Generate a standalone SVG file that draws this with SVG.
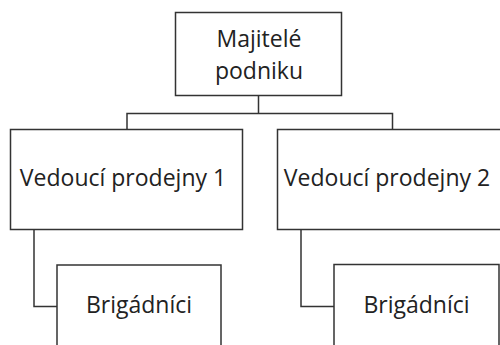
<svg xmlns="http://www.w3.org/2000/svg" width="500" height="345" viewBox="0 0 500 345">
<style>
.box{fill:#fff;stroke:#333;stroke-width:1.5}
.lbl{font-family:"Open Sans","Liberation Sans",sans-serif;font-size:23px;fill:#222;text-anchor:middle}
.con{fill:none;stroke:#333;stroke-width:1.5}
</style>
<rect width="500" height="345" fill="#fff"/>
<g id="connectors">
<path class="con" d="M258.5,95.5 V113.5 M127,129.5 V113.5 H392.5 V129.5"/>
<path class="con" d="M34,229.5 V306.5 H57"/>
<path class="con" d="M301,229.5 V306.5 H334"/>
</g>
<g id="owners">
<rect class="box" x="175.5" y="12.5" width="166" height="83"/>
<text class="lbl" x="259" y="46.5">Majitelé</text>
<text class="lbl" x="259" y="79">podniku</text>
</g>
<g id="manager1">
<rect class="box" x="10.5" y="129.5" width="232" height="100"/>
<text class="lbl" x="123" y="186">Vedoucí prodejny 1</text>
</g>
<g id="manager2">
<rect class="box" x="277.5" y="129.5" width="232" height="100"/>
<text class="lbl" x="387" y="186">Vedoucí prodejny 2</text>
</g>
<g id="temps1">
<rect class="box" x="57" y="265" width="164" height="90"/>
<text class="lbl" x="139" y="313">Brigádníci</text>
</g>
<g id="temps2">
<rect class="box" x="334" y="264.5" width="165" height="90"/>
<text class="lbl" x="416.5" y="313">Brigádníci</text>
</g>
</svg>
